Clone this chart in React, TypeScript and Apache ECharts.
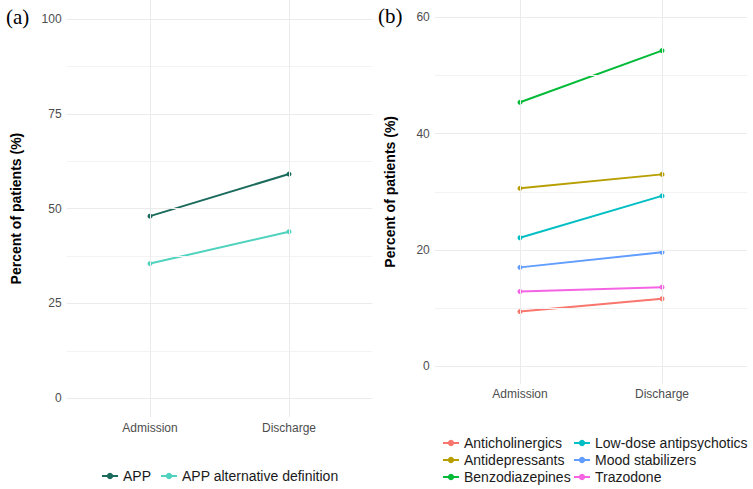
import React, { useEffect, useRef } from 'react';
import * as echarts from 'echarts';

// ---- data ----
const categories = ['Admission', 'Discharge'];

const panelANames = ['APP', 'APP alternative definition'];
const appValues = [48.0, 59.1];
const appAltValues = [35.5, 43.9];
const panelAColors = ['#1b6b5c', '#4fd2be'];

const panelBNames = [
  'Anticholinergics',
  'Antidepressants',
  'Benzodiazepines',
  'Low-dose antipsychotics',
  'Mood stabilizers',
  'Trazodone',
];
const anticholinergicsValues = [9.4, 11.6];
const antidepressantsValues = [30.6, 33.0];
const benzodiazepinesValues = [45.4, 54.3];
const lowDoseAntipsychoticsValues = [22.1, 29.3];
const moodStabilizersValues = [17.0, 19.6];
const trazodoneValues = [12.85, 13.6];
const panelBColors = ['#F8766D', '#B79F00', '#00BA38', '#00BFC4', '#619CFF', '#F564E3'];

const yTicksA = [0, 25, 50, 75, 100];
const yMinorA = [12.5, 37.5, 62.5, 87.5];
const yTicksB = [0, 20, 40, 60];
const yMinorB = [10, 30, 50];

const FONT = '"Liberation Sans", Arial, Helvetica, sans-serif';
const SERIF = '"Liberation Serif", "Times New Roman", serif';

function toPoints(values: number[]) {
  return values.map((v, i) => [i + 1, v]);
}

function gridLines(idx: number, major: number[], minor: number[]) {
  const major_c = '#ebebeb';
  const minor_c = '#f3f3f3';
  return {
    type: 'line',
    name: '__grid' + idx,
    xAxisIndex: idx,
    yAxisIndex: idx,
    data: [],
    z: 0,
    silent: true,
    markLine: {
      silent: true,
      animation: false,
      symbol: ['none', 'none'],
      label: { show: false },
      emphasis: { disabled: true },
      data: [
        ...minor.map((v) => ({ yAxis: v, lineStyle: { color: minor_c, width: 1, type: 'solid' } })),
        ...major.map((v) => ({ yAxis: v, lineStyle: { color: major_c, width: 1, type: 'solid' } })),
        ...categories.map((_, i) => ({ xAxis: i + 1, lineStyle: { color: major_c, width: 1, type: 'solid' } })),
      ],
    },
  };
}

function xAxisDef(idx: number, margin: number) {
  return {
    type: 'value',
    gridIndex: idx,
    min: 0.4,
    max: 2.6,
    interval: 0.2,
    axisLine: { show: false },
    axisTick: { show: false },
    splitLine: { show: false },
    axisLabel: {
      margin,
      fontSize: 12,
      color: '#4d4d4d',
      fontFamily: FONT,
      showMinLabel: true,
      showMaxLabel: true,
      formatter: (v: number) => {
        for (let i = 0; i < categories.length; i++) {
          if (Math.abs(v - (i + 1)) < 1e-6) return categories[i];
        }
        return '';
      },
    },
  };
}

function yAxisDef(idx: number, min: number, max: number, step: number, ticks: number[], nameGap: number) {
  return {
    type: 'value',
    gridIndex: idx,
    min,
    max,
    interval: step,
    name: 'Percent of patients (%)',
    nameLocation: 'middle',
    nameGap,
    nameTextStyle: { fontSize: 14, fontWeight: 'bold', color: '#000', fontFamily: FONT },
    axisLine: { show: false },
    axisTick: { show: false },
    splitLine: { show: false },
    axisLabel: {
      margin: 5,
      fontSize: 12,
      color: '#4d4d4d',
      fontFamily: FONT,
      formatter: (v: number) => {
        for (const t of ticks) {
          if (Math.abs(v - t) < 1e-6) return String(t);
        }
        return '';
      },
    },
  };
}

function lineSeries(name: string, values: number[], color: string, idx: number) {
  return {
    type: 'line',
    name,
    xAxisIndex: idx,
    yAxisIndex: idx,
    data: toPoints(values),
    symbol: 'circle',
    symbolSize: 5,
    showSymbol: true,
    lineStyle: { color, width: 2 },
    itemStyle: { color },
    z: 3,
  };
}

export default function App() {
  const ref = useRef<HTMLDivElement>(null);

  useEffect(() => {
    if (!ref.current) return;
    const chart = echarts.init(ref.current, undefined, { renderer: 'svg' });

    const pxA = 3.83;
    const pxB = 5.883;

    const bValues = [
      anticholinergicsValues,
      antidepressantsValues,
      benzodiazepinesValues,
      lowDoseAntipsychoticsValues,
      moodStabilizersValues,
      trazodoneValues,
    ];

    const legendCommon = {
      itemWidth: 16,
      itemHeight: 8,
      padding: 0,
      textStyle: { fontSize: 14, color: '#1a1a1a', fontFamily: FONT, lineHeight: 15 },
      selectedMode: false,
    };

    chart.setOption({
      animation: false,
      backgroundColor: '#ffffff',
      grid: [
        { left: 66.6, width: 305.8, top: 15 - 5 * pxA, height: 110 * pxA, containLabel: false },
        { left: 434.8, width: 312.4, top: 13 - 3 * pxB, height: 66 * pxB, containLabel: false },
      ],
      xAxis: [xAxisDef(0, 5), xAxisDef(1, 4)],
      yAxis: [yAxisDef(0, -5, 105, 2.5, yTicksA, 43.5), yAxisDef(1, -3, 63, 1, yTicksB, 37.5)],
      legend: [
        {
          ...legendCommon,
          orient: 'horizontal',
          left: 101,
          top: 468.5,
          itemGap: 9,
          data: panelANames,
        },
        {
          ...legendCommon,
          orient: 'vertical',
          left: 442,
          top: 435.5,
          height: 53,
          itemGap: 2,
          data: panelBNames.slice(0, 3),
        },
        {
          ...legendCommon,
          orient: 'vertical',
          left: 573,
          top: 435.5,
          height: 53,
          itemGap: 2,
          data: panelBNames.slice(3),
        },
      ],
      graphic: [
        {
          type: 'text',
          left: 6,
          top: 6,
          style: { text: '(a)', fontSize: 21, fontFamily: SERIF, fill: '#000' },
        },
        {
          type: 'text',
          left: 378,
          top: 5,
          style: { text: '(b)', fontSize: 21, fontFamily: SERIF, fill: '#000' },
        },
      ],
      series: [
        gridLines(0, yTicksA, yMinorA),
        gridLines(1, yTicksB, yMinorB),
        lineSeries(panelANames[0], appValues, panelAColors[0], 0),
        lineSeries(panelANames[1], appAltValues, panelAColors[1], 0),
        ...panelBNames.map((n, i) => lineSeries(n, bValues[i], panelBColors[i], 1)),
      ],
    });

    return () => chart.dispose();
  }, []);

  return <div ref={ref} style={{ width: 753, height: 489, position: 'absolute', left: 0, top: 0 }} />;
}
